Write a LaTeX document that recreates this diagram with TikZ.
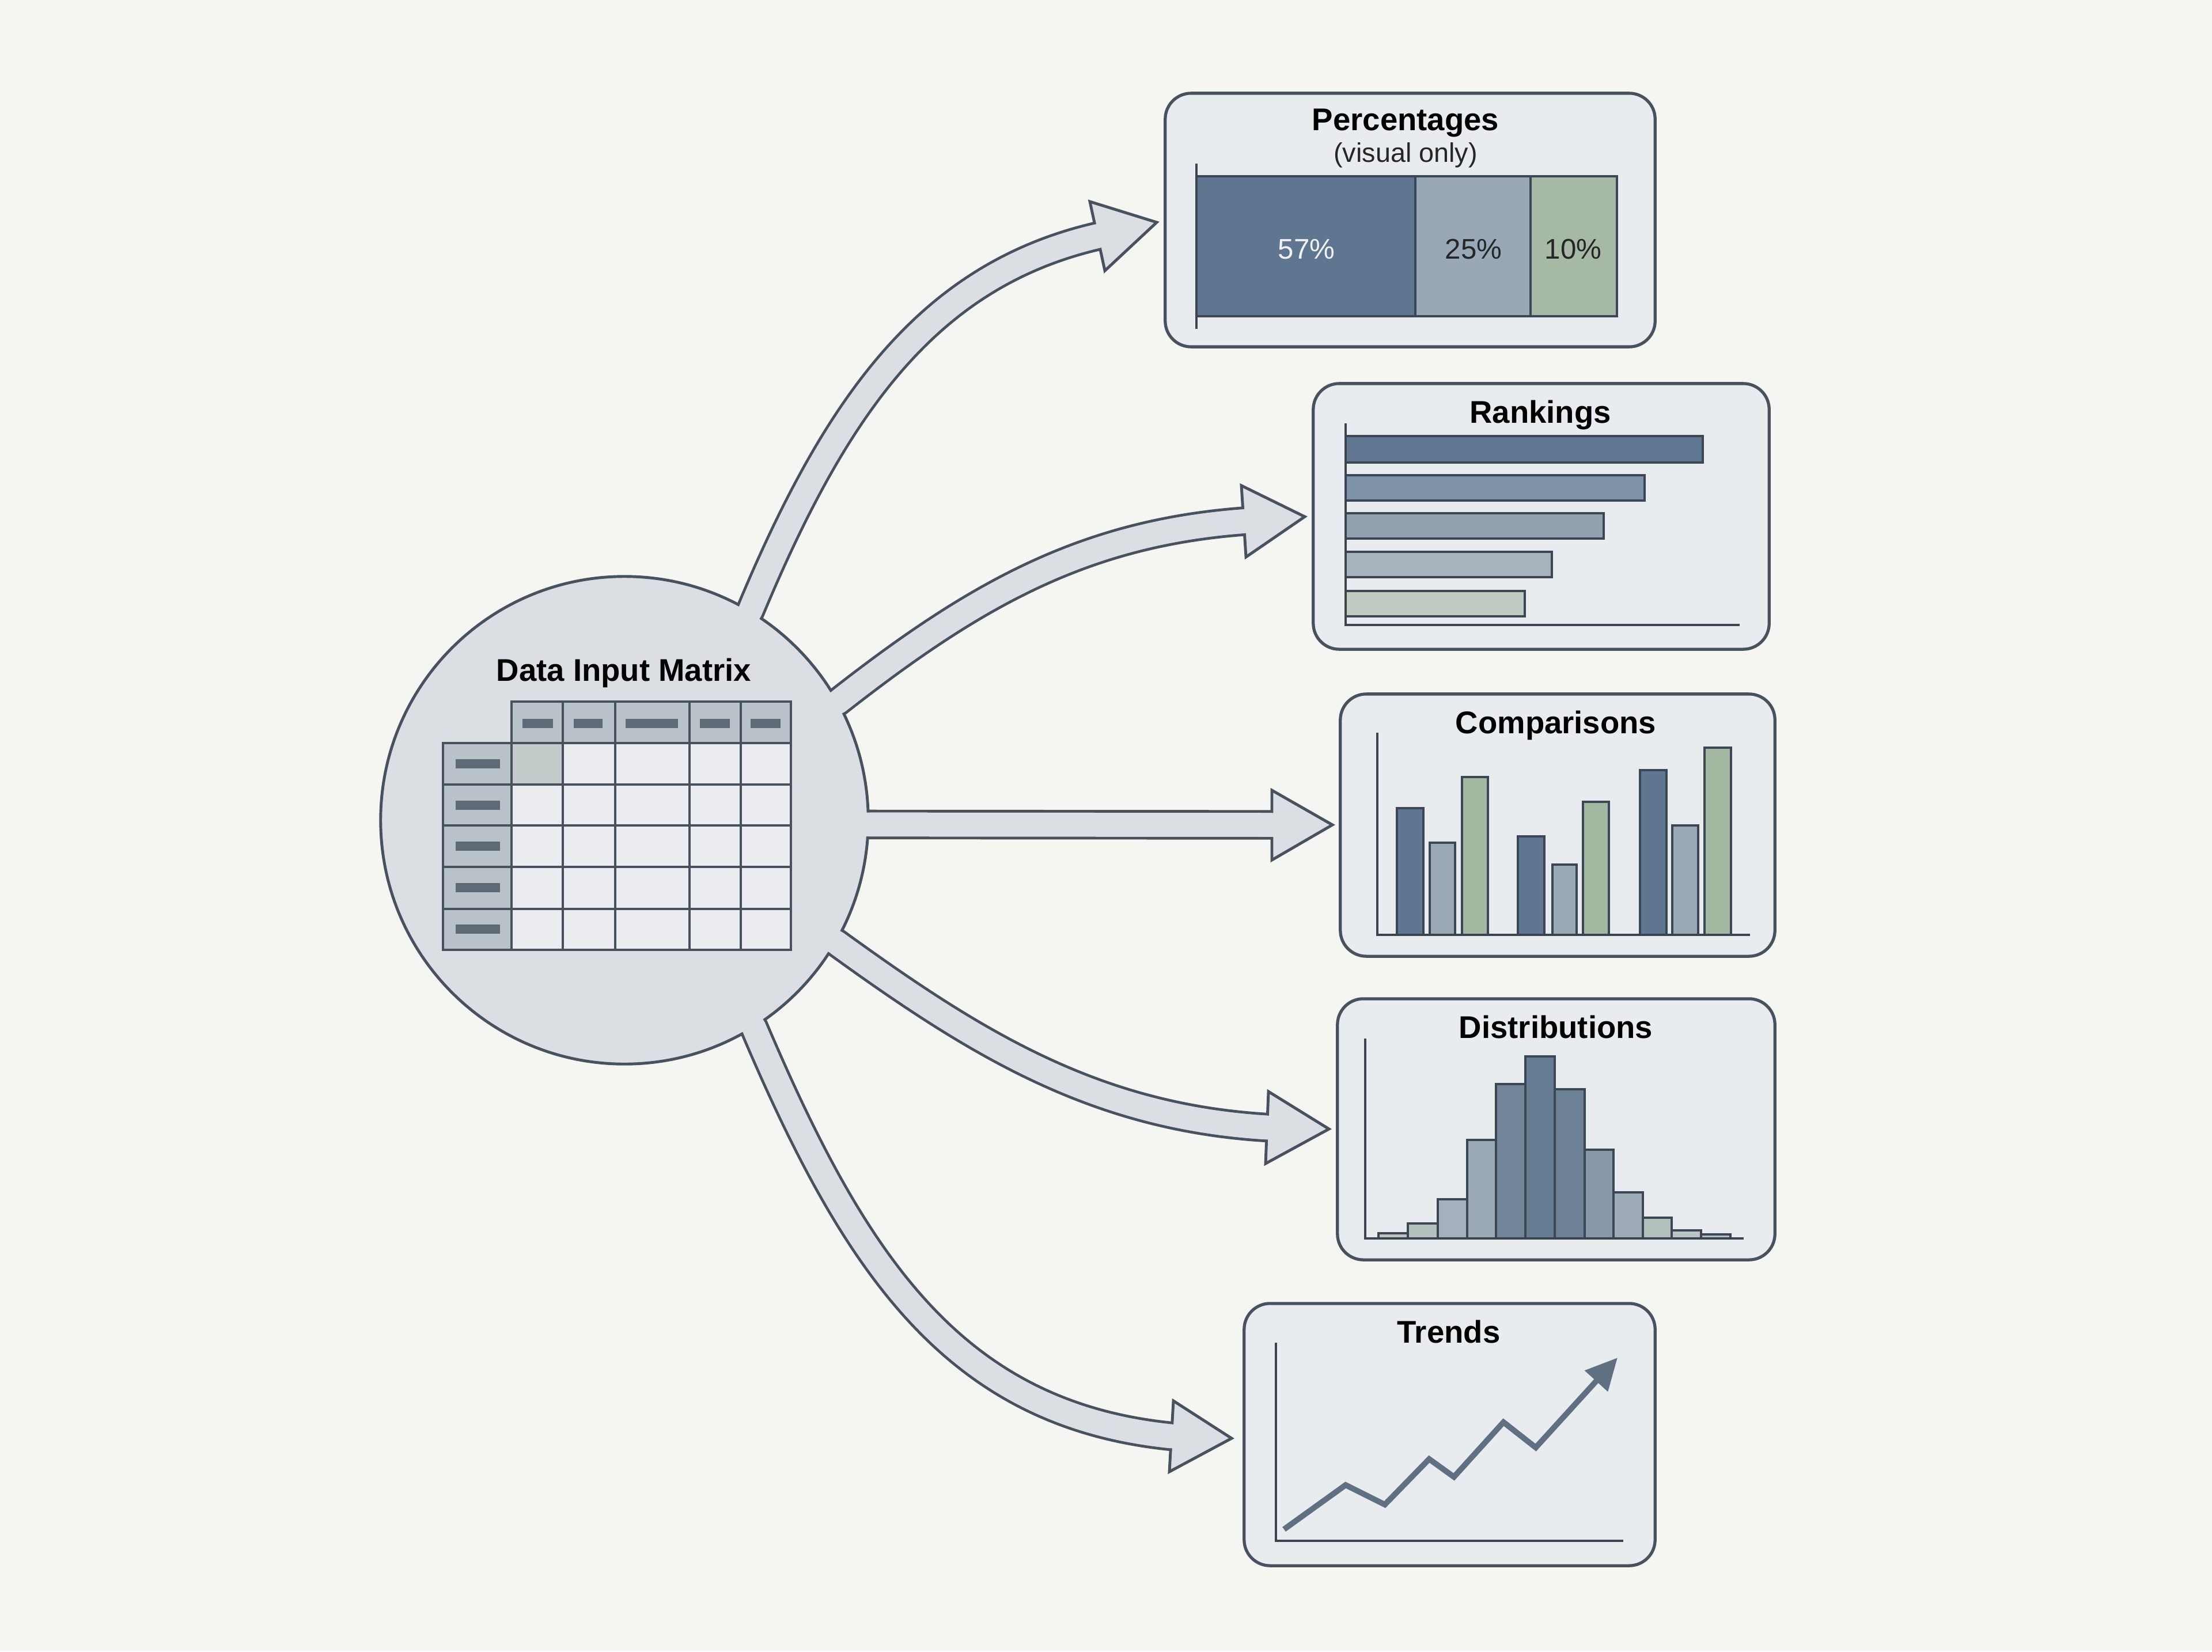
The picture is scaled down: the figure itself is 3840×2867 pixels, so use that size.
\documentclass[tikz,border=0pt]{standalone}
\usepackage{fontspec}
\setmainfont{Liberation Sans}
\usetikzlibrary{arrows.meta}
\definecolor{bgc}{HTML}{F5F5F1}
\definecolor{fillc}{HTML}{DBDFE3}
\definecolor{edgec}{HTML}{46525E}
\definecolor{boxc}{HTML}{E9ECEF}
\definecolor{barln}{HTML}{3B4754}
\definecolor{axisc}{HTML}{3A4550}
\definecolor{hdrc}{HTML}{B9C1C9}
\definecolor{cellc}{HTML}{EAECEF}
\definecolor{cellsh}{HTML}{C4CBCB}
\definecolor{tbar}{HTML}{5E6A76}
\definecolor{trendc}{HTML}{5E7082}
\definecolor{sA}{HTML}{5E7690}
\definecolor{sB}{HTML}{98A8B7}
\definecolor{sC}{HTML}{A6B9A4}
\definecolor{rA}{HTML}{5F7791}
\definecolor{rB}{HTML}{7E93A6}
\definecolor{rC}{HTML}{91A1B0}
\definecolor{rD}{HTML}{A7B2BC}
\definecolor{rE}{HTML}{BFCBC1}
\definecolor{cA}{HTML}{5F7690}
\definecolor{cB}{HTML}{9BA9B6}
\definecolor{cC}{HTML}{A4B7A1}
\definecolor{dA}{HTML}{B9C4BF}
\definecolor{dB}{HTML}{B4C0BB}
\definecolor{dC}{HTML}{A4B0BB}
\definecolor{dD}{HTML}{9CA9B6}
\definecolor{dE}{HTML}{728599}
\definecolor{dF}{HTML}{667C92}
\definecolor{dG}{HTML}{6C8196}
\definecolor{dH}{HTML}{8798A9}
\definecolor{dI}{HTML}{9EAAB6}
\definecolor{dJ}{HTML}{B3BFBA}
\definecolor{dK}{HTML}{BAC5C1}
\definecolor{dL}{HTML}{B3BEC2}
\begin{document}
\begin{tikzpicture}[x=0.01cm, y=-0.01cm,
  box/.style={draw=edgec, line width=1.5pt, fill=boxc, rounded corners=0.45cm, inner sep=0pt},
  ttl/.style={font=\bfseries\fontsize{15.5}{18}\selectfont, text=black, anchor=base, inner sep=0pt},
  subt/.style={font=\fontsize{13.3}{16}\selectfont, text=black!85, anchor=base, inner sep=0pt},
  pctlbl/.style={font=\fontsize{14}{16}\selectfont, anchor=base, inner sep=0pt},
  bar/.style={draw=barln, line width=0.9pt},
  axis/.style={draw=axisc, line width=1.2pt},
  shaft/.style={draw=edgec, line width=1.4pt, double=fillc, double distance=11.8pt, line join=round},
  shaftin/.style={draw=fillc, line width=11.8pt, line join=round},
  head/.style={draw=edgec, fill=fillc, line width=1.4pt, line join=miter},
  cellb/.style={draw=edgec, line width=1pt},
]
\fill[bgc] (0,0) rectangle (3840,2867);
\useasboundingbox (0,0) rectangle (3840,2867);

% ---------- boxes ----------
\node[box, minimum width=8.5cm, minimum height=4.4cm] (pct) at (2448,382) {};
\node[box, minimum width=7.91cm, minimum height=4.61cm] (rank) at (2675.5,896.5) {};
\node[box, minimum width=7.54cm, minimum height=4.55cm] (comp) at (2704,1432.5) {};
\node[box, minimum width=7.59cm, minimum height=4.53cm] (dist) at (2701.5,1960.5) {};
\node[box, minimum width=7.13cm, minimum height=4.55cm] (trend) at (2516.5,2490.5) {};

% ---------- Percentages ----------
\node[ttl] (tpct) at (2440,227) {Percentages};
\node[subt] (tvis) at (2440,282) {(visual only)};
\draw[bar, fill=sA] (2077,306) rectangle (2457,549);
\draw[bar, fill=sB] (2457,306) rectangle (2657,549);
\draw[bar, fill=sC] (2657,306) rectangle (2807,549);
\draw[axis] (2077,284) -- (2077,571);
\node[pctlbl, text=white!90!sA] (p57) at (2268,449) {57\%};
\node[pctlbl, text=black!85] (p25) at (2558,449) {25\%};
\node[pctlbl, text=black!85] (p10) at (2731,449) {10\%};

% ---------- Rankings ----------
\node[ttl] (trank) at (2674,734) {Rankings};
\draw[bar, fill=rA] (2336,757) rectangle (2956,803);
\draw[bar, fill=rB] (2336,825) rectangle (2855,869);
\draw[bar, fill=rC] (2336,891) rectangle (2784,935);
\draw[bar, fill=rD] (2336,958) rectangle (2694,1002);
\draw[bar, fill=rE] (2336,1026) rectangle (2647,1070);
\draw[axis] (2336,735) -- (2336,1085) -- (3020,1085);

% ---------- Comparisons ----------
\node[ttl] (tcomp) at (2701,1273) {Comparisons};
\foreach \a/\b/\t/\c in {2425/2471/1403/cA, 2482/2526/1463/cB, 2538/2583/1349/cC,
                         2635/2681/1452/cA, 2695/2737/1501/cB, 2748/2793/1392/cC,
                         2847/2893/1337/cA, 2903/2948/1433/cB, 2959/3005/1298/cC}
  \draw[bar, fill=\c] (\a,1623) rectangle (\b,\t);
\draw[axis] (2391,1272) -- (2391,1623) -- (3038,1623);

% ---------- Distributions ----------
\node[ttl] (tdist) at (2701,1802) {Distributions};
\foreach \a/\b/\t/\c in {2393/2444/2141/dA, 2444/2496/2124/dB, 2496/2547/2082/dC,
                         2547/2597/1979/dD, 2597/2648/1882/dE, 2648/2699/1834/dF,
                         2699/2751/1891/dG, 2751/2801/1996/dH, 2801/2852/2070/dI,
                         2852/2902/2114/dJ, 2902/2953/2136/dK, 2953/3004/2143/dL}
  \draw[bar, fill=\c] (\a,2150) rectangle (\b,\t);
\draw[axis] (2370,1803) -- (2370,2150) -- (3027,2150);

% ---------- Trends ----------
\node[ttl] (ttrend) at (2515,2331) {Trends};
\draw[axis] (2215,2331) -- (2215,2675) -- (2818,2675);
\draw[draw=trendc, line width=2.8pt, line join=miter, -{Triangle[length=0.55cm, width=0.52cm]}]
  (2229,2655) -- (2336,2578) -- (2404,2612) -- (2481,2533) -- (2524,2564)
  -- (2610,2469) -- (2666,2513) -- (2808,2357);

% ---------- hub (anchor node) ----------
\node[circle, minimum size=8.46cm, inner sep=0pt] (mat) at (1084,1424) {};

% arrow head base points
\coordinate (h1) at (1905,410);
\coordinate (h2) at (2159,905);
\coordinate (h3) at (2208,1432);
\coordinate (h4) at (2199.5,1957.5);
\coordinate (h5) at (2033.5,2493.5);

% heads
\draw[head] (1892,350) -- (2008,386) -- (1918,470) -- cycle;
\draw[head] (2155,843) -- (2265,897) -- (2163,967) -- cycle;
\draw[head] (2208,1372) -- (2313,1432) -- (2208,1493) -- cycle;
\draw[head] (2202,1895) -- (2307,1960) -- (2197,2020) -- cycle;
\draw[head] (2037,2432) -- (2138,2497) -- (2030,2555) -- cycle;

% shafts with outline
\draw[shaft] (mat.center) -- (mat.59.7) .. controls +(150,-360) and +(-292,68) .. (h1);
\draw[shaft] (mat.center) -- (mat.29.2) .. controls +(236,-185) and +(-279,21) .. (h2);
\draw[shaft] (mat.center) -- (mat.-1.1) -- (h3);
\draw[shaft] (mat.center) -- (mat.-30.5) .. controls +(243,176) and +(-299,-18) .. (h4);
\draw[shaft] (mat.center) -- (mat.-58.2) .. controls +(176,414) and +(-376,-38) .. (h5);

% hub disc
\fill[fillc] (mat.center) circle[radius=4.23cm];
\draw[edgec, line width=1.4pt] (mat.center) circle[radius=4.23cm];

% shaft interiors (open the outlines)
\draw[shaftin] (mat.center) -- (mat.59.7) .. controls +(150,-360) and +(-292,68) .. (h1) -- +(12,-3);
\draw[shaftin] (mat.center) -- (mat.29.2) .. controls +(236,-185) and +(-279,21) .. (h2) -- +(12,-1);
\draw[shaftin] (mat.center) -- (mat.-1.1) -- (h3) -- +(12,0);
\draw[shaftin] (mat.center) -- (mat.-30.5) .. controls +(243,176) and +(-299,-18) .. (h4) -- +(12,0);
\draw[shaftin] (mat.center) -- (mat.-58.2) .. controls +(176,414) and +(-376,-38) .. (h5) -- +(12,0);

% ---------- table ----------
\node[ttl] (tmat) at (1083,1182) {Data Input Matrix};
% header row
\foreach \a/\b in {888/977, 977/1068, 1068/1197, 1197/1286, 1286/1373}
  \draw[cellb, fill=hdrc] (\a,1218) rectangle (\b,1290);
% label column
\foreach \a/\b in {1290/1362, 1362/1433, 1433/1505, 1505/1578, 1578/1649}
  \draw[cellb, fill=hdrc] (769,\a) rectangle (888,\b);
% body cells
\foreach \a/\b in {888/977, 977/1068, 1068/1197, 1197/1286, 1286/1373}
  \foreach \c/\d in {1290/1362, 1362/1433, 1433/1505, 1505/1578, 1578/1649}
    \draw[cellb, fill=cellc] (\a,\c) rectangle (\b,\d);
\draw[cellb, fill=cellsh] (888,1290) rectangle (977,1362);
% header bars
\foreach \a/\b in {907/960, 996/1046, 1086/1177, 1215/1267, 1303/1355}
  \fill[tbar] (\a,1248) rectangle (\b,1264);
% label bars
\foreach \y in {1326, 1398, 1469, 1541, 1613}
  \fill[tbar] (791,\y-8) rectangle (868,\y+8);
\end{tikzpicture}
\end{document}
